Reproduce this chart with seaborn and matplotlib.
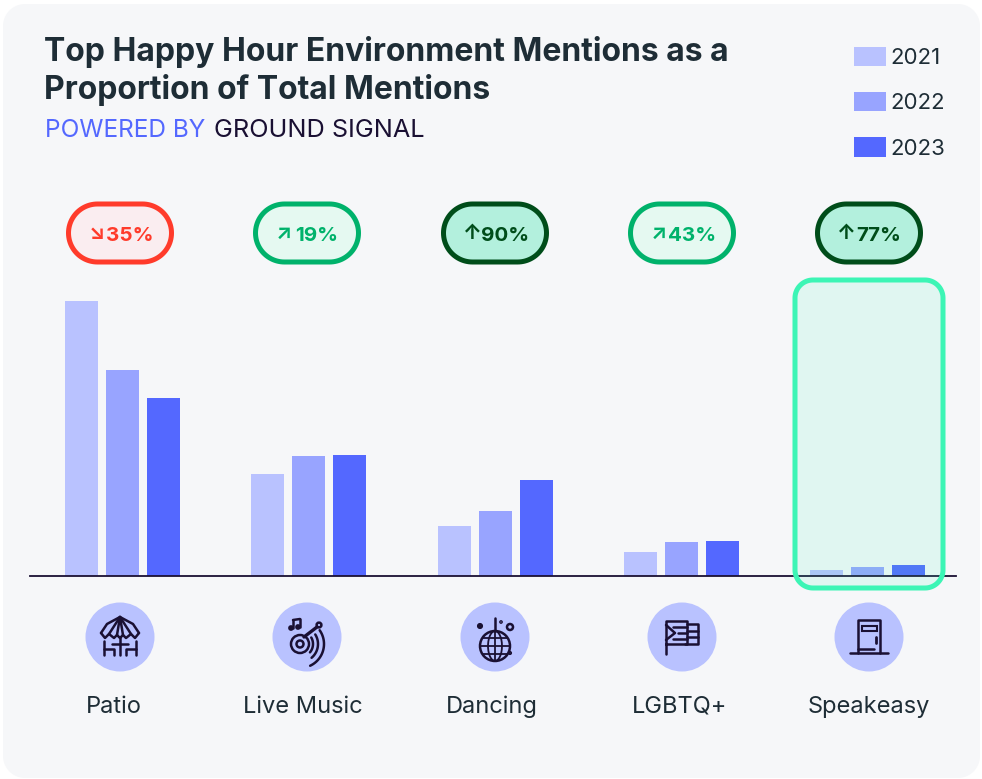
import numpy as np
import pandas as pd
import matplotlib
matplotlib.use("Agg")
import matplotlib.pyplot as plt
import seaborn as sns
from matplotlib.patches import Circle, Polygon, Rectangle, Patch

categories = ["Patio", "Live Music", "Dancing", "LGBTQ+", "Speakeasy"]
years = ["2021", "2022", "2023"]
values_2021 = [27.5, 10.2, 5.0, 2.4, 0.6]
values_2022 = [20.6, 12.0, 6.5, 3.4, 0.85]
values_2023 = [17.8, 12.1, 9.6, 3.5, 1.1]
change_arrows = ["↘", "↗", "↑", "↗", "↑"]
change_pct = ["35%", "19%", "90%", "43%", "77%"]
change_kind = ["down", "up", "strong", "up", "strong"]

year_colors = ["#B9C2FF", "#98A4FF", "#5468FF"]
ink = "#1A1033"
text_dark = "#1E2D36"
pill_styles = {
    "down": ("#FF3B2B", "#FAEDF0"),
    "up": ("#00B26B", "#E5F9F1"),
    "strong": ("#004D1A", "#B3F0DD"),
}

W, H = 982, 779
sns.set_theme(style="white")
plt.rcParams["font.family"] = ["Inter", "DejaVu Sans"]

df = pd.DataFrame({
    "environment": categories * 3,
    "year": [y for y in years for _ in categories],
    "share": values_2021 + values_2022 + values_2023,
})


def round_box(x, y, w, h, r, **kw):
    # true circular corners, the "round" boxstyle comes out too square
    pts = []
    for cx, cy, start in [(x + w - r, y + r, -90), (x + w - r, y + h - r, 0),
                          (x + r, y + h - r, 90), (x + r, y + r, 180)]:
        t = np.radians(np.linspace(start, start + 90, 24))
        pts.extend(zip(cx + r * np.cos(t), cy + r * np.sin(t)))
    return Polygon(pts, closed=True, **kw)


fig = plt.figure(figsize=(W / 100, H / 100), dpi=100, facecolor="white")

# background panel
bg = fig.add_axes([0, 0, 1, 1], zorder=0)
bg.set_xlim(0, W)
bg.set_ylim(H, 0)
bg.axis("off")
bg.add_patch(round_box(3, 4, 977, 774, 22, fc="#F6F7F9", ec="none"))

# bars
ax = fig.add_axes([30 / W, (H - 575.6) / H, 926 / W, 295 / H], zorder=1)
ax.patch.set_alpha(0)
sns.barplot(data=df, x="environment", y="share", hue="year", palette=year_colors,
            width=0.66, gap=0.195, saturation=1, legend=False, linewidth=0, ax=ax)
ax.set_xlim(-0.497, 4.475)
ax.set_ylim(0, 29.5)
ax.set_xticks([])
ax.set_yticks([])
ax.set_xlabel("")
ax.set_ylabel("")
sns.despine(ax=ax, left=True)
ax.spines["bottom"].set_color(ink)
ax.spines["bottom"].set_linewidth(1.3)

# everything drawn in pixel positions on top
ov = fig.add_axes([0, 0, 1, 1], zorder=2)
ov.set_xlim(0, W)
ov.set_ylim(H, 0)
ov.axis("off")
ov.patch.set_alpha(0)

ov.text(44, 52, "Top Happy Hour Environment Mentions as a", fontsize=23, fontweight="bold",
        color=text_dark, va="center", ha="left")
ov.text(44, 90, "Proportion of Total Mentions", fontsize=23, fontweight="bold",
        color=text_dark, va="center", ha="left")
ov.text(45, 130, "POWERED BY", fontsize=17.6, color="#5468FF", va="center", ha="left")
ov.text(214, 130, "GROUND SIGNAL", fontsize=18.2, color=ink, va="center", ha="left")

handles = [Patch(fc=c, ec="none", label=y) for c, y in zip(year_colors, years)]
ov.legend(handles=handles, loc="upper left", bbox_to_anchor=(854 / W, 1 - 47 / H),
          bbox_transform=fig.transFigure, frameon=False, fontsize=16, labelcolor=text_dark,
          handlelength=1.44, handleheight=0.95, handletextpad=0.2, labelspacing=1.08,
          borderpad=0, borderaxespad=0)

# change pills
pill_x = [120, 307, 495, 682, 869]
for x, arrow, pct, kind in zip(pill_x, change_arrows, change_pct, change_kind):
    edge, fill = pill_styles[kind]
    ov.add_patch(round_box(x - 51.5, 204, 103, 58, 29, fc=fill, ec=edge, lw=3.6))
    ov.text(x - 23, 233, arrow, fontsize=15, fontweight="bold", color=edge, ha="center", va="center")
    ov.text(x + 10, 241, pct, fontsize=14.8, fontweight="bold", color=edge, ha="center", va="baseline")

# highlighted column
ov.add_patch(round_box(795, 280, 148, 308, 18, fc=(0.235, 0.96, 0.71, 0.118), ec="#3CF5B5", lw=3.6))


def line(cx, cy, pts, lw=1.8):
    ov.plot([cx + p[0] for p in pts], [cy + p[1] for p in pts], color=ink, lw=lw,
            solid_capstyle="round", solid_joinstyle="round")


def ring(cx, cy, r, fill="none", lw=1.8):
    ov.add_patch(Circle((cx, cy), r, fc=fill, ec=ink, lw=lw))


def curve(cx, cy, rx, ry, a0, a1, lw=1.8):
    t = np.radians(np.linspace(a0, a1, 30))
    ov.plot(cx + rx * np.cos(t), cy + ry * np.sin(t), color=ink, lw=lw, solid_capstyle="round")


def patio_icon(cx, cy):
    line(cx, cy, [(-19, -4), (-13, -13), (0, -20), (13, -13), (19, -4)])
    line(cx, cy, [(-19, -4), (-15, 1), (-11, -3), (-6, 1), (-3, -2), (0, 1), (3, -2), (6, 1), (11, -3), (15, 1), (19, -4)])
    line(cx, cy, [(0, -20), (-11, -3)])
    line(cx, cy, [(0, -20), (-3, -2)])
    line(cx, cy, [(0, -20), (3, -2)])
    line(cx, cy, [(0, -20), (11, -3)])
    line(cx, cy, [(0, 0), (0, 18)])
    line(cx, cy, [(-8, 7), (8, 7)])
    for s in (-1, 1):
        line(cx, cy, [(s * 16, 4), (s * 16, 18)])
        line(cx, cy, [(s * 16, 12), (s * 6, 12), (s * 6, 18)])


def music_icon(cx, cy):
    ring(cx - 7, cy + 7, 9)
    ring(cx - 7, cy + 7, 3.5)
    line(cx, cy, [(-3, 0), (10, -10)], lw=2.4)
    ring(cx + 12, cy - 12, 2.4)
    line(cx, cy, [(-14, -17), (-14, -9)])
    line(cx, cy, [(-7, -18), (-7, -10)])
    line(cx, cy, [(-14, -17), (-7, -18)])
    ring(cx - 16, cy - 9, 1.6, fill=ink)
    ring(cx - 9, cy - 10, 1.6, fill=ink)
    curve(cx - 7, cy + 7, 13, 13, -30, 40)
    curve(cx - 7, cy + 7, 18, 18, -32, 50)
    curve(cx - 7, cy + 7, 24, 24, -35, 65)


def disco_icon(cx, cy):
    ring(cx, cy + 9, 15)
    line(cx, cy, [(0, -19), (0, -6)])
    line(cx, cy, [(-15, 9), (15, 9)], lw=1.3)
    line(cx, cy, [(-12, 1), (12, 1)], lw=1.3)
    line(cx, cy, [(-12, 17), (12, 17)], lw=1.3)
    line(cx, cy, [(0, -6), (0, 24)], lw=1.3)
    curve(cx, cy + 9, 7, 15, 0, 360, lw=1.3)
    ring(cx - 15, cy - 11, 1.8, fill=ink)
    ring(cx + 15, cy - 10, 3)
    ring(cx + 15, cy + 16, 0.8, fill=ink)
    ring(cx + 6, cy - 15, 0.6, fill=ink)


def flag_icon(cx, cy):
    line(cx, cy, [(-16, 17), (-16, -16), (5, -16), (5, 7), (-16, 7)])
    line(cx, cy, [(-16, -12), (-7, -4), (-16, 3)])
    line(cx, cy, [(-9, -10), (5, -10)])
    line(cx, cy, [(-4, -4), (5, -4)])
    line(cx, cy, [(-9, 2), (5, 2)])
    line(cx, cy, [(5, -13), (16, -13), (16, 7), (3, 7)])
    line(cx, cy, [(5, -6), (16, -6)])
    line(cx, cy, [(5, 0), (16, 0)])


def door_icon(cx, cy):
    line(cx, cy, [(-11, 16), (-11, -17), (11, -17), (11, 16)])
    line(cx, cy, [(-19, 16), (19, 16)])
    line(cx, cy, [(-11, 12), (5, 12)])
    ov.add_patch(Rectangle((cx - 7, cy - 11), 15, 5, fc="none", ec=ink, lw=1.5))
    line(cx, cy, [(7, 0), (7, 6)], lw=2)


icons = [patio_icon, music_icon, disco_icon, flag_icon, door_icon]
label_x = [114, 302.5, 491.5, 680, 869]
for x, lx, name, icon in zip(pill_x, label_x, categories, icons):
    ov.add_patch(Circle((x, 637), 34.5, fc="#B9C2FF", ec="none"))
    icon(x, 637)
    ov.text(lx, 713, name, fontsize=17, color=text_dark, ha="center", va="baseline")

ov.set_xlim(0, W)
ov.set_ylim(H, 0)
fig.savefig("out.png", dpi=100)
